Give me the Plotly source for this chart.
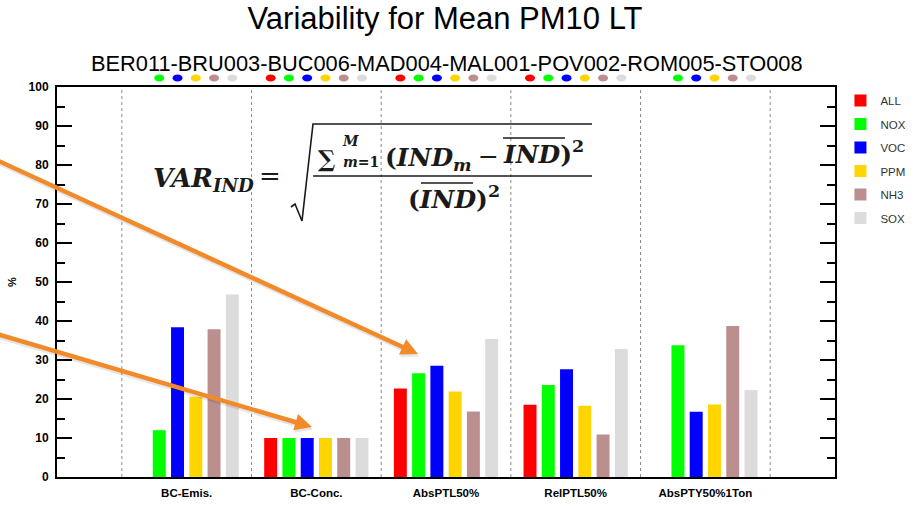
import math
import plotly.graph_objects as go

# ---------------- data ----------------
categories = ["BC-Emis.", "BC-Conc.", "AbsPTL50%", "RelPTL50%", "AbsPTY50%1Ton"]
series_names = ["ALL", "NOX", "VOC", "PPM", "NH3", "SOX"]
ALL = [None, 10.0, 22.7, 18.5, None]
NOX = [12.0, 10.0, 26.6, 23.6, 33.8]
VOC = [38.4, 10.0, 28.5, 27.6, 16.7]
PPM = [20.6, 10.0, 21.9, 18.3, 18.6]
NH3 = [37.9, 10.0, 16.8, 10.9, 38.7]
SOX = [46.8, 10.0, 35.4, 32.8, 22.3]
series_values = [ALL, NOX, VOC, PPM, NH3, SOX]
y_ticks = [0, 10, 20, 30, 40, 50, 60, 70, 80, 90, 100]
title_text = "Variability for Mean PM10 LT"
subtitle_text = "BER011-BRU003-BUC006-MAD004-MAL001-POV002-ROM005-STO008"

colors = ["#FF0000", "#00FF00", "#0000FF", "#FFD500", "#BC8F8F", "#DCDCDC"]

W, H = 914, 506
ML, MR, MT, MB = 57, 79, 87, 29
PW, PH = W - ML - MR, H - MT - MB


def px(x):
    return (x - ML) / PW


def py(y):
    return (H - MB - y) / PH


BARGAP = 0.155
x_idx = list(range(len(categories)))

fig = go.Figure()
for name, vals, col in zip(series_names, series_values, colors):
    fig.add_trace(go.Bar(
        x=x_idx, y=vals, name=name, legendgroup=name,
        marker=dict(color=col, line=dict(width=0)),
    ))

shapes = []
# small presence dots under the subtitle, aligned with the bar slots
slot = (1 - BARGAP) / len(series_names)
for j, (vals, col) in enumerate(zip(series_values, colors)):
    for i, v in zip(x_idx, vals):
        if v is None:
            continue
        xc = i + (j - (len(series_names) - 1) / 2) * slot
        shapes.append(dict(type="circle", xref="x", yref="paper", x0=xc - 0.039, x1=xc + 0.039,
                           y0=py(81.5), y1=py(74.5), fillcolor=col, line=dict(width=0)))

for i in range(len(categories) + 1):
    shapes.append(dict(type="line", xref="x", yref="paper", x0=i - 0.5, x1=i - 0.5,
                       y0=0, y1=1, line=dict(color="#8a8a8a", width=1, dash="dot"), layer="below"))

# formula pieces (square root + fraction bar + overlines)
shapes.append(dict(type="path", xref="paper", yref="paper",
                   path=f"M{px(291)},{py(207)} L{px(295)},{py(204)} L{px(302)},{py(221)} L{px(313)},{py(124)} L{px(592)},{py(124)}",
                   line=dict(color="#1a1a1a", width=1.6)))
shapes.append(dict(type="line", xref="paper", yref="paper", x0=px(313), x1=px(592), y0=py(176), y1=py(176),
                   line=dict(color="#1a1a1a", width=1.6)))
shapes.append(dict(type="line", xref="paper", yref="paper", x0=px(503), x1=px(565), y0=py(138), y1=py(138),
                   line=dict(color="#1a1a1a", width=1.4)))
shapes.append(dict(type="line", xref="paper", yref="paper", x0=px(421), x1=px(473), y0=py(183), y1=py(183),
                   line=dict(color="#1a1a1a", width=1.4)))


# orange arrows drawn as shapes (line + triangular head), with a soft shadow
def arrow_shapes(tail, tip, color, width=4.5, head_len=17, head_half=8.5):
    (sx, sy), (tx, ty) = tail, tip
    d = math.hypot(tx - sx, ty - sy)
    ux, uy = (tx - sx) / d, (ty - sy) / d
    nx, ny = -uy, ux
    bx, by = tx - head_len * ux, ty - head_len * uy
    out = [dict(type="line", xref="paper", yref="paper", x0=px(sx), y0=py(sy),
                x1=px(bx + 2 * ux), y1=py(by + 2 * uy), line=dict(color=color, width=width))]
    p1 = (bx + head_half * nx, by + head_half * ny)
    p2 = (bx - head_half * nx, by - head_half * ny)
    out.append(dict(type="path", xref="paper", yref="paper",
                    path=f"M{px(tx)},{py(ty)} L{px(p1[0])},{py(p1[1])} L{px(p2[0])},{py(p2[1])} Z",
                    fillcolor=color, line=dict(width=0)))
    return out


arrows = [((-10, 157), (418, 354)), ((-10, 332), (312, 427))]
for (s, t) in arrows:
    shapes += arrow_shapes((s[0] + 1, s[1] + 2.5), (t[0] + 1, t[1] + 2.5), "rgba(0,0,0,0.10)")
    shapes += arrow_shapes(s, t, "#F28A2A")

FF = "DejaVu Serif"
FC = "#1a1a1a"


def txt(t, x, y, size, xanchor="left", yanchor="middle"):
    return dict(text=t, xref="paper", yref="paper", x=px(x), y=py(y), xanchor=xanchor, yanchor=yanchor,
                showarrow=False, font=dict(family=FF, size=size, color=FC))


annotations = [
    dict(text=subtitle_text, xref="paper", yref="paper", x=px(447), y=py(63), xanchor="center",
         yanchor="middle", showarrow=False, font=dict(family="Liberation Sans", size=21.8, color="black")),
    txt("<b><i>VAR<sub>IND</sub></i></b>", 151, 179, 26),
    txt("=", 270, 176, 26, xanchor="center"),
    txt("<b>∑</b>", 326, 158, 23, xanchor="center"),
    txt("<b><i>M</i></b>", 350, 141, 14, xanchor="center"),
    txt("<b><i>m</i>=1</b>", 361, 162, 14, xanchor="center"),
    txt("<b>(<i>IND<sub>m</sub></i></b>", 383, 159, 25),
    txt("−", 488, 156, 25, xanchor="center"),
    txt("<b><i>IND</i>)<sup>2</sup></b>", 501, 152, 25),
    txt("<b>(<i>IND</i>)<sup>2</sup></b>", 406, 197, 25),
]

fig.update_layout(
    width=W, height=H,
    margin=dict(l=ML, r=MR, t=MT, b=MB, autoexpand=False),
    paper_bgcolor="white", plot_bgcolor="white",
    barmode="group", bargap=BARGAP, bargroupgap=0.29,
    title=dict(text=title_text, x=445 / W, xanchor="center", y=1 - 18 / H, yanchor="middle",
               font=dict(family="Liberation Sans", size=31, color="black")),
    legend=dict(x=1.007, xanchor="left", y=py(86), yanchor="top", traceorder="grouped",
                tracegroupgap=4.5, font=dict(family="Liberation Sans", size=11.5, color="#333"),
                bgcolor="rgba(0,0,0,0)"),
    shapes=shapes,
    annotations=annotations,
    xaxis=dict(range=[-1, len(categories)], tickvals=x_idx, ticktext=categories,
               showline=True, mirror=True, linecolor="black", linewidth=2,
               ticks="", showgrid=False, zeroline=False, ticklabelstandoff=4,
               tickfont=dict(family="Liberation Sans", size=11.5, color="black", weight="bold")),
    yaxis=dict(range=[0, 100], tickvals=y_ticks, showline=True, mirror="ticks", linecolor="black",
               linewidth=2, ticks="inside", ticklen=15, tickwidth=2, tickcolor="black",
               minor=dict(dtick=5, ticks="inside", ticklen=8, tickwidth=2, tickcolor="black"),
               showgrid=False, zeroline=False, ticklabelstandoff=4,
               tickfont=dict(family="Liberation Sans", size=12, color="black", weight="bold"),
               title=dict(text="%", standoff=10,
                          font=dict(family="Liberation Sans", size=11, color="black", weight="bold"))),
)

fig.write_html("out.html", config={"displayModeBar": False},
               post_script="document.body.style.margin='0';document.body.style.overflow='hidden';")
